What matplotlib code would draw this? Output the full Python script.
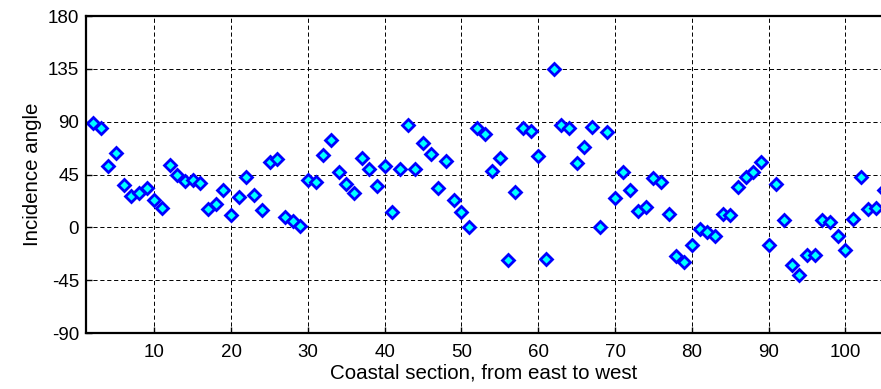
import matplotlib
matplotlib.use("Agg")
import matplotlib.pyplot as plt
import numpy as np

plt.rcParams['font.family'] = ['Liberation Sans', 'DejaVu Sans']
plt.rcParams['axes.unicode_minus'] = False

sections = list(range(2, 106))
angles = [88.6, 84.9, 52.1, 62.9, 36.2, 26.5, 29.3, 33.3, 23.6, 16.5,
          53.5, 45.0, 39.3, 40.7, 37.9, 15.7, 19.9, 32.2, 10.8, 25.6,
          42.7, 27.9, 15.1, 55.8, 58.4, 8.8, 5.1, 0.9, 39.9, 38.4,
          61.2, 74.1, 47.3, 36.5, 29.3, 59.2, 50.1, 35.0, 52.1, 13.1,
          50.1, 87.2, 49.3, 71.5, 62.7, 33.6, 56.4, 23.1, 13.4, 0.0,
          84.3, 79.4, 48.0, 59.4, -28.0, 30.0, 84.3, 82.0, 60.6, -27.1,
          135.0, 87.1, 84.3, 54.9, 68.0, 85.7, 0.6, 81.4, 25.1, 47.1,
          32.0, 13.7, 17.7, 42.0, 38.5, 11.4, -24.8, -29.6, -15.4, -1.1,
          -4.0, -7.1, 11.4, 10.8, 34.2, 42.7, 47.0, 55.8, -15.4, 36.5,
          6.6, -31.9, -41.0, -23.9, -23.4, 6.6, 4.3, -7.1, -19.1, 7.4,
          42.7, 15.7, 16.5, 32.2]
yticks = [-90, -45, 0, 45, 90, 135, 180]
xticks = [10, 20, 30, 40, 50, 60, 70, 80, 90, 100]

fig = plt.figure(figsize=(8.81, 3.89), dpi=100)
ax = fig.add_axes([86/881, 56/389, 1 - 86/881 + 0.001, 317/389])

ax.plot(sections, angles, linestyle='none', marker='D', markersize=6.6,
        markerfacecolor='#00ffff', markeredgecolor='#0000ff', markeredgewidth=2.0,
        clip_on=True)

ax.set_xlim(1.1, 104.75)
ax.set_ylim(-90, 180)
ax.set_xticks(xticks)
ax.set_yticks(yticks)
ax.grid(True, color='black', linestyle=(0, (4.3, 2.8)), linewidth=0.7)
ax.set_axisbelow(True)
ax.tick_params(direction='in', length=4, width=1, labelsize=13.5,
               top=False, right=False)
ax.tick_params(axis='x', pad=8)
ax.tick_params(axis='y', pad=5)
for s in ['left', 'bottom', 'top']:
    ax.spines[s].set_linewidth(1.6)
ax.spines['right'].set_visible(False)

ax.set_xlabel('Coastal section, from east to west', fontsize=14.8, labelpad=2)
ax.set_ylabel('Incidence angle', fontsize=14.8, labelpad=4)

fig.savefig('out.png', dpi=100)
